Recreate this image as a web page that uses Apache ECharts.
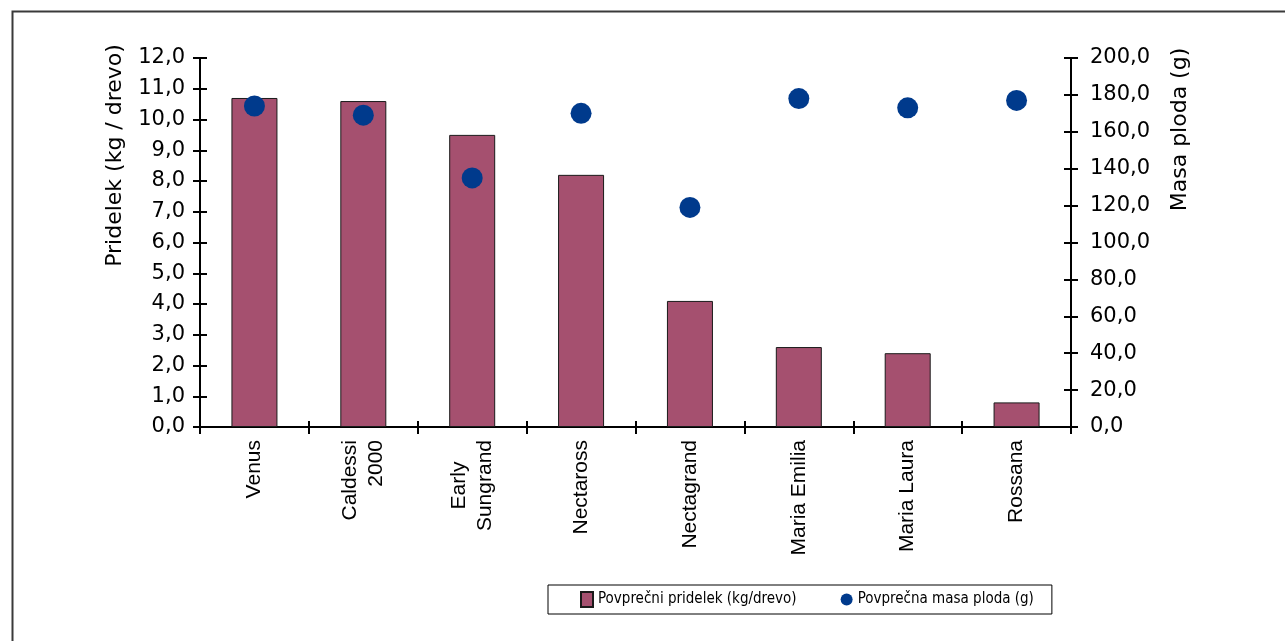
<!DOCTYPE html>
<html>
<head>
<meta charset="utf-8">
<title>Pridelek in masa ploda</title>
<script src="https://cdn.jsdelivr.net/npm/echarts@6/dist/echarts.min.js"></script>
<style>
  html, body { margin: 0; padding: 0; background: #ffffff; overflow: hidden; }
  #chart { width: 1285px; height: 641px; }
</style>
</head>
<body>
<div id="chart"></div>
<script>
// Sorte breskev / nektarin
const categories = ['Venus', 'Caldessi\n2000', 'Early\nSungrand', 'Nectaross', 'Nectagrand', 'Maria Emilia', 'Maria Laura', 'Rossana'];
// Povprečni pridelek (kg/drevo)
const yieldPerTree = [10.7, 10.6, 9.5, 8.2, 4.1, 2.6, 2.4, 0.8];
// Povprečna masa ploda (g)
const fruitMass = [174, 169, 135, 170, 119, 178, 173, 177];

const yieldName = 'Povprečni pridelek (kg/drevo)';
const massName = 'Povprečna masa ploda (g)';
const leftAxisName = 'Pridelek (kg / drevo)';
const rightAxisName = 'Masa ploda (g)';

const fmt = v => v.toFixed(1).replace('.', ',');
const tickFont = { fontFamily: 'DejaVu Sans', fontSize: 21, color: '#000' };
const axisLine = { show: true, lineStyle: { color: '#000', width: 2 } };

const chart = echarts.init(document.getElementById('chart'), null, { renderer: 'canvas' });

chart.setOption({
  backgroundColor: '#ffffff',
  animation: false,
  graphic: [{
    type: 'rect',
    left: 10, top: 9,
    shape: { width: 1320, height: 700 },
    style: { fill: 'none', stroke: '#3a3a3a', lineWidth: 2 },
    silent: true
  }],
  grid: { left: 200, right: 214, top: 58, bottom: 214, containLabel: false },
  legend: {
    left: 548, top: 585,
    padding: [6, 18, 6, 32],
    itemGap: 44,
    itemWidth: 12, itemHeight: 15,
    borderColor: '#000', borderWidth: 1,
    backgroundColor: '#fff',
    textStyle: { fontFamily: 'DejaVu Sans Condensed', fontSize: 15, color: '#000' },
    data: [
      { name: yieldName, icon: 'rect' },
      { name: massName, icon: 'circle' }
    ]
  },
  xAxis: [{
    type: 'category',
    data: categories,
    boundaryGap: true,
    axisLine: axisLine,
    axisTick: { show: true, length: 7, lineStyle: { color: '#000', width: 2 } },
    axisLabel: {
      rotate: 90,
      margin: 13,
      interval: 0,
      fontFamily: 'Liberation Sans', fontSize: 21, lineHeight: 26, color: '#000',
      formatter: v => v.startsWith('Early') ? v.split('\n').map(s => '{c|' + s + '}').join('\n') : v,
      rich: { c: { align: 'center', fontFamily: 'Liberation Sans', fontSize: 21, lineHeight: 26, color: '#000' } }
    },
    splitLine: { show: false }
  }, {
    // inner half of the crossing category ticks
    type: 'category',
    data: categories,
    position: 'bottom',
    boundaryGap: true,
    axisLine: { show: false },
    axisTick: { show: true, inside: true, length: 6, lineStyle: { color: '#000', width: 2 } },
    axisLabel: { show: false },
    splitLine: { show: false }
  }],
  yAxis: [{
    type: 'value',
    position: 'left',
    min: 0, max: 12, interval: 1,
    name: leftAxisName,
    nameLocation: 'middle',
    nameRotate: 90,
    nameGap: 74,
    nameTextStyle: { fontFamily: 'DejaVu Sans', fontSize: 22, color: '#000', padding: [0, 0, 0, 174] },
    axisLine: axisLine,
    axisTick: { show: true, length: 7, lineStyle: { color: '#000', width: 2 } },
    axisLabel: { ...tickFont, margin: 15, formatter: fmt },
    splitLine: { show: false }
  }, {
    type: 'value',
    position: 'right',
    min: 0, max: 200, interval: 20,
    name: rightAxisName,
    nameLocation: 'middle',
    nameRotate: 90,
    nameGap: 98,
    nameTextStyle: { fontFamily: 'DejaVu Sans', fontSize: 22, color: '#000', padding: [0, 0, 0, 226] },
    axisLine: axisLine,
    axisTick: { show: true, length: 7, lineStyle: { color: '#000', width: 2 } },
    axisLabel: { ...tickFont, margin: 19, formatter: fmt },
    splitLine: { show: false }
  }, {
    // inner half of the crossing left ticks
    type: 'value',
    position: 'left',
    min: 0, max: 12, interval: 1,
    axisLine: { show: false },
    axisTick: { show: true, inside: true, length: 7, lineStyle: { color: '#000', width: 2 } },
    axisLabel: { show: false },
    splitLine: { show: false }
  }, {
    // inner half of the crossing right ticks
    type: 'value',
    position: 'right',
    min: 0, max: 200, interval: 20,
    axisLine: { show: false },
    axisTick: { show: true, inside: true, length: 7, lineStyle: { color: '#000', width: 2 } },
    axisLabel: { show: false },
    splitLine: { show: false }
  }],
  series: [{
    name: yieldName,
    type: 'bar',
    xAxisIndex: 0,
    yAxisIndex: 0,
    data: yieldPerTree,
    barWidth: 46,
    itemStyle: { color: '#A5506F', borderColor: '#1a1a1a', borderWidth: 1 }
  }, {
    name: massName,
    type: 'scatter',
    xAxisIndex: 0,
    yAxisIndex: 1,
    data: fruitMass,
    symbol: 'circle',
    symbolSize: 21,
    itemStyle: { color: '#003A8C', opacity: 1 },
    z: 5
  }]
});
</script>
</body>
</html>
